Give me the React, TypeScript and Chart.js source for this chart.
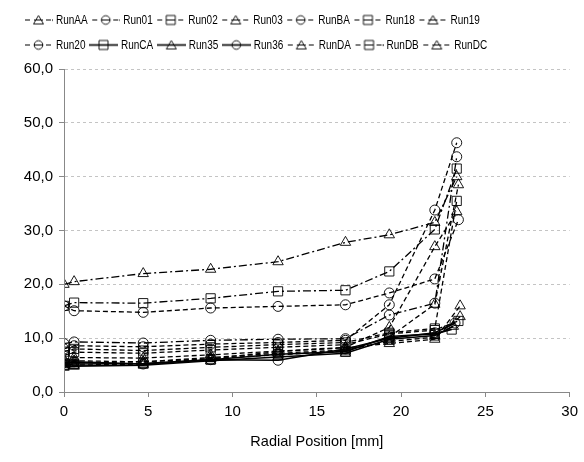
import { useEffect, useRef } from "react";
import { Chart, registerables } from "chart.js";

Chart.register(...registerables);

const runNames = ["RunAA", "Run01", "Run02", "Run03", "RunBA", "Run18", "Run19", "Run20", "RunCA", "Run35", "Run36", "RunDA", "RunDB", "RunDC"];
const radialPositions = [0, 0.6, 4.7, 8.7, 12.7, 16.7, 19.3, 22.0];
const edgePositions = [23.3, 23.3, 23.4, 23.3, 23.3, 23.3, 23.4, 23.4, 23.0, 23.1, 23.2, 23.5, 23.3, 23.5];

const runAA = [20.0, 20.5, 22.0, 22.8, 24.2, 27.8, 29.2, 31.5, 40.0];
const run01 = [9.0, 9.3, 9.1, 9.6, 9.8, 9.9, 14.3, 16.5, 43.7];
const run02 = [6.8, 7.4, 7.2, 7.8, 8.3, 8.8, 10.8, 11.5, 13.2];
const run03 = [6.0, 6.4, 6.3, 6.9, 7.6, 8.3, 12.0, 27.0, 33.5];
const runBA = [8.0, 8.6, 8.4, 8.9, 9.2, 9.6, 16.2, 33.8, 46.3];
const run18 = [7.5, 8.0, 7.7, 8.3, 8.8, 9.2, 11.0, 11.8, 35.5];
const run19 = [5.5, 5.8, 5.6, 6.2, 6.9, 7.6, 10.2, 16.3, 38.5];
const run20 = [16.0, 15.1, 14.8, 15.6, 15.9, 16.2, 18.4, 21.0, 32.0];
const runCA = [5.0, 5.2, 5.3, 6.0, 7.0, 7.5, 10.3, 10.8, 11.6];
const run35 = [4.6, 4.8, 5.0, 5.8, 6.5, 7.2, 9.8, 10.5, 12.2];
const run36 = [5.5, 5.6, 5.2, 6.0, 5.9, 8.0, 10.0, 11.0, 12.8];
const runDA = [5.2, 5.4, 5.6, 6.4, 7.2, 7.8, 9.4, 10.2, 14.0];
const runDB = [16.0, 16.6, 16.5, 17.4, 18.7, 18.9, 22.4, 30.2, 41.5];
const runDC = [4.8, 5.0, 5.2, 6.2, 7.5, 8.2, 9.0, 9.8, 16.0];

const runValues = [runAA, run01, run02, run03, runBA, run18, run19, run20, runCA, run35, run36, runDA, runDB, runDC];

const DASH = [5, 3];
const DASHDOT = [8, 3, 2, 3];
const SOLID: number[] = [];
const runMarkers = ["triangle", "circle", "rect", "triangle", "circle", "rect", "triangle", "circle", "rect", "triangle", "circle", "triangle", "rect", "triangle"];
const runDashes = [DASHDOT, DASHDOT, DASH, DASH, DASH, DASH, DASH, DASH, SOLID, SOLID, SOLID, DASH, DASHDOT, DASH];

const FONT = '"Liberation Sans", Arial, sans-serif';
const NARROW = 0.77;

function drawMarker(ctx: CanvasRenderingContext2D, kind: string, cx: number, cy: number) {
  ctx.setLineDash([]);
  ctx.beginPath();
  if (kind === "triangle") {
    ctx.moveTo(cx, cy - 4.5);
    ctx.lineTo(cx + 5, cy + 4);
    ctx.lineTo(cx - 5, cy + 4);
    ctx.closePath();
  } else if (kind === "circle") {
    ctx.arc(cx, cy, 4.3, 0, Math.PI * 2);
  } else {
    ctx.rect(cx - 4.5, cy - 4.5, 9, 9);
  }
  ctx.stroke();
}

function legendImage(kind: string, dash: number[]) {
  const c = document.createElement("canvas");
  c.width = 29;
  c.height = 14;
  const ctx = c.getContext("2d")!;
  ctx.strokeStyle = "#000";
  ctx.lineWidth = dash.length ? 1.2 : 1.6;
  if (dash.length === 0) {
    ctx.beginPath();
    ctx.moveTo(0, 7.5);
    ctx.lineTo(29, 7.5);
    ctx.stroke();
  } else {
    ctx.beginPath();
    ctx.moveTo(1, 7.5);
    ctx.lineTo(6, 7.5);
    ctx.moveTo(10, 7.5);
    ctx.lineTo(19, 7.5);
    ctx.moveTo(22, 7.5);
    ctx.lineTo(27, 7.5);
    ctx.stroke();
    if (dash.length > 2) {
      ctx.fillStyle = "#000";
      ctx.fillRect(28, 7, 1.5, 1.2);
    }
  }
  ctx.lineWidth = 0.9;
  drawMarker(ctx, kind, 14.5, 7.5);
  return c;
}

export default function App() {
  const ref = useRef<HTMLCanvasElement | null>(null);

  useEffect(() => {
    if (!ref.current) return;
    const images = runNames.map((_, i) => legendImage(runMarkers[i], runDashes[i]));
    const datasets = runNames.map((name, i) => {
      const xs = radialPositions.concat([edgePositions[i]]);
      const solid = runDashes[i].length === 0;
      return {
        label: name,
        data: runValues[i].map((v, j) => ({ x: xs[j], y: v })),
        borderColor: "#000",
        backgroundColor: "rgba(0,0,0,0)",
        borderWidth: solid ? 1.6 : 1.3,
        borderDash: runDashes[i],
        pointStyle: runMarkers[i] as any,
        pointRadius: runMarkers[i] === "triangle" ? 6 : runMarkers[i] === "rect" ? 6.5 : 5,
        pointBorderColor: "#000",
        pointBackgroundColor: "rgba(0,0,0,0)",
        pointBorderWidth: 0.9,
        tension: 0,
        fill: false,
        showLine: true,
      };
    });

    const chart = new Chart(ref.current, {
      type: "scatter",
      data: { datasets },
      options: {
        animation: false,
        responsive: false,
        devicePixelRatio: 1,
        layout: { padding: { left: 18, right: 12, top: 69, bottom: 0 } },
        plugins: {
          tooltip: { enabled: false },
          legend: { display: false },
        },
        scales: {
          x: {
            type: "linear",
            min: 0,
            max: 30,
            ticks: {
              stepSize: 5,
              color: "#000",
              padding: 6,
              font: { family: FONT, size: 15 },
            },
            grid: {
              drawOnChartArea: false,
              drawTicks: true,
              tickLength: 5,
              color: "#888",
            },
            border: { color: "#888", width: 1 },
            title: {
              display: true,
              text: "Radial Position [mm]",
              color: "#000",
              font: { family: FONT, size: 14.5 },
              padding: { top: 6, bottom: 11 },
            },
            afterFit: (s: any) => {
              s.height = 70;
            },
          },
          y: {
            type: "linear",
            min: 0,
            max: 60,
            ticks: {
              stepSize: 10,
              color: "#000",
              padding: 6,
              font: { family: FONT, size: 15 },
              callback: (v: any) => Number(v).toFixed(1).replace(".", ","),
            },
            grid: {
              color: (c: any) => (c.tick && c.tick.value === 0 ? "rgba(0,0,0,0)" : "#c4c4c4"),
              tickColor: "#888",
              tickLength: 5,
              lineWidth: 1,
              tickBorderDash: [],
            } as any,
            border: { color: "#888", width: 1, dash: [3, 3] } as any,
            afterFit: (s: any) => {
              s.width = 46;
            },
          },
        },
      },
      plugins: [
        {
          id: "solidYAxisLine",
          afterDraw: (ch: any) => {
            const { ctx, chartArea } = ch;
            ctx.save();
            ctx.strokeStyle = "#888";
            ctx.lineWidth = 1;
            ctx.setLineDash([]);
            ctx.beginPath();
            ctx.moveTo(chartArea.left + 0.5, chartArea.top);
            ctx.lineTo(chartArea.left + 0.5, chartArea.bottom);
            ctx.stroke();
            ctx.restore();
          },
        },
        {
          id: "twoRowLegend",
          afterDraw: (ch: any) => {
            const ctx: CanvasRenderingContext2D = ch.ctx;
            ctx.save();
            ctx.font = `13px ${FONT}`;
            ctx.textBaseline = "middle";
            ctx.textAlign = "left";
            ctx.fillStyle = "#000";
            const perRow = 7;
            const labels = ch.data.datasets.map((d: any) => d.label as string);
            for (let r = 0; r * perRow < labels.length; r++) {
              let x = 24;
              const y = 20 + r * 25;
              for (let k = 0; k < perRow && r * perRow + k < labels.length; k++) {
                const i = r * perRow + k;
                ctx.drawImage(images[i], x, y - 7.5);
                const tx = x + 32;
                ctx.save();
                ctx.translate(tx, y);
                ctx.scale(NARROW, 1);
                ctx.fillText(labels[i], 0, 0);
                ctx.restore();
                x = tx + ctx.measureText(labels[i]).width * NARROW + 3.5;
              }
            }
            ctx.restore();
          },
        },
      ],
    });
    return () => chart.destroy();
  }, []);

  return (
    <div style={{ position: "fixed", left: 0, top: 0, width: 584, height: 462, background: "#fff" }}>
      <canvas ref={ref} width={584} height={462} style={{ width: 584, height: 462, display: "block" }} />
    </div>
  );
}
